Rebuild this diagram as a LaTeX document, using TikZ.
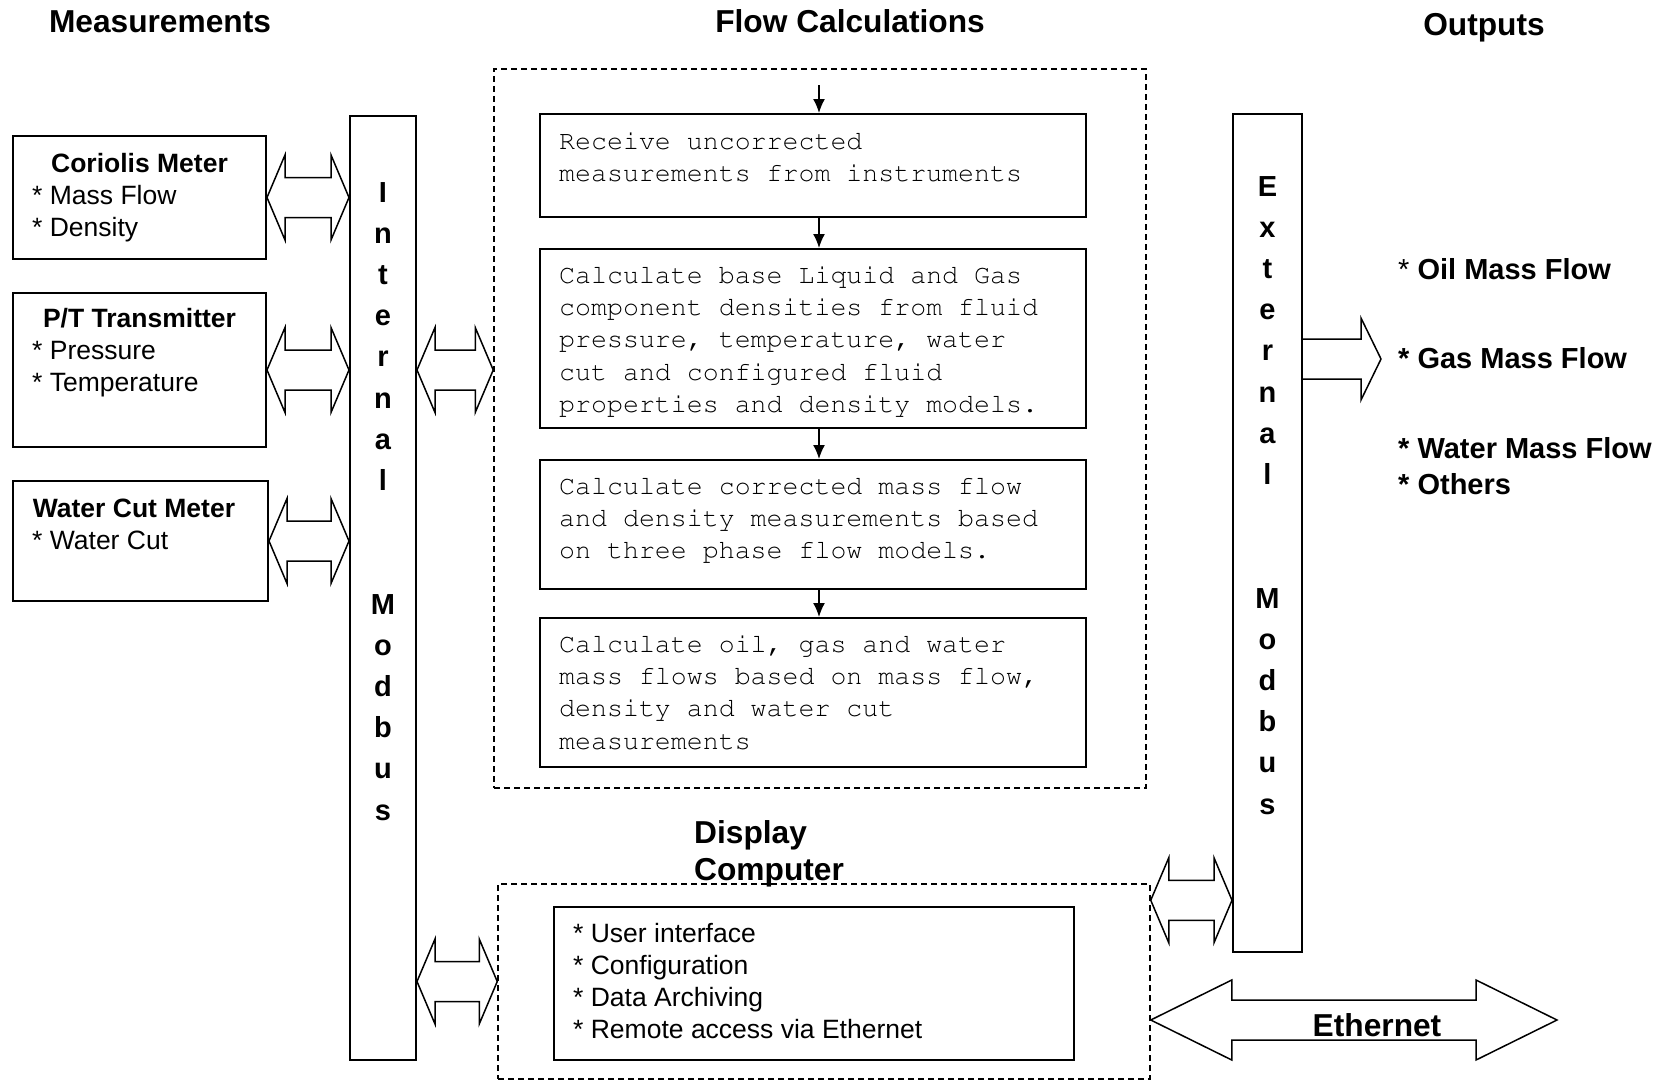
\documentclass[tikz,border=0pt]{standalone}
\usepackage[T1]{fontenc}
\usepackage{fontspec}
\setmainfont{Liberation Sans}
\setmonofont{Liberation Mono}
\usetikzlibrary{calc,arrows.meta}

\newcommand{\ttlfont}{\fontsize{31.7}{37}\selectfont\bfseries}
\newcommand{\txtfont}{\fontsize{26.5}{32}\selectfont}
\newcommand{\codefont}{\fontencoding{T1}\fontfamily{pcr}\fontseries{m}\fontsize{26.6}{32.3}\selectfont}
\newcommand{\barfont}{\fontsize{29}{41.2}\selectfont\bfseries}
\newcommand{\outfont}{\fontsize{29}{36}\selectfont}

% double block arrow: start, end, head length, head half width
\newcommand{\dblarrow}[4]{%
  \draw[blockarrow] let \p1=(#1), \p2=(#2) in
    (\x1,\y1) -- (\x1+#3pt,\y1+#4pt) -- (\x1+#3pt,\y1+20pt) -- (\x2-#3pt,\y1+20pt)
    -- (\x2-#3pt,\y1+#4pt) -- (\x2,\y1) -- (\x2-#3pt,\y1-#4pt) -- (\x2-#3pt,\y1-20pt)
    -- (\x1+#3pt,\y1-20pt) -- (\x1+#3pt,\y1-#4pt) -- cycle;}
% single block arrow out of a bar
\newcommand{\sglarrow}[4]{%
  \draw[blockarrow] let \p1=(#1), \p2=(#2) in
    (\x1,\y1+20pt) -- (\x2-#3pt,\y1+20pt) -- (\x2-#3pt,\y1+#4pt) -- (\x2,\y1)
    -- (\x2-#3pt,\y1-#4pt) -- (\x2-#3pt,\y1-20pt) -- (\x1,\y1-20pt);}

\begin{document}
\begin{tikzpicture}[x=1pt,y=-1pt,
    solidbox/.style={draw,line width=2pt,inner sep=0pt},
    groupbox/.style={draw,line width=1.5pt,dash pattern=on 6pt off 4pt,inner sep=0pt},
    blockarrow/.style={line width=1.5pt,fill=white,line join=miter},
    flowarrow/.style={line width=1.5pt,-{Latex[length=14pt,width=12pt]}}]
    \useasboundingbox (0,0) rectangle (1670,1081);

    % Titles
    \node[font=\ttlfont,anchor=base] (tmeas) at (160,33) {Measurements};
    \node[font=\ttlfont,anchor=base] (tflow) at (850,33) {Flow Calculations};
    \node[font=\ttlfont,anchor=base] (tout) at (1484,36) {Outputs};

    % Measurement boxes
    \node[solidbox,minimum width=253pt,minimum height=123pt] (cor) at (139.5,197.5) {};
    \node[font=\txtfont\bfseries,anchor=base] (corT) at (139.5,172) {Coriolis Meter};
    \node[font=\txtfont,align=left,anchor=north west,inner sep=0pt] (corL) at (32,181.6) {\strut* Mass Flow\\* Density};

    \node[solidbox,minimum width=253pt,minimum height=154pt] (pt) at (139.5,370) {};
    \node[font=\txtfont\bfseries,anchor=base] (ptT) at (139.5,327) {P/T Transmitter};
    \node[font=\txtfont,align=left,anchor=north west,inner sep=0pt] (ptL) at (32,336.6) {\strut* Pressure\\* Temperature};

    \node[solidbox,minimum width=255pt,minimum height=120pt] (wc) at (140.5,541) {};
    \node[font=\txtfont\bfseries,anchor=base] (wcT) at (134,517) {Water Cut Meter};
    \node[font=\txtfont,align=left,anchor=north west,inner sep=0pt] (wcL) at (32,526.6) {\strut* Water Cut};

    % Internal Modbus bar
    \node[solidbox,minimum width=66pt,minimum height=944pt] (imb) at (383,588) {};
    \foreach \ch [count=\i from 0] in {I,n,t,e,r,n,a,l}
      \node[font=\barfont,anchor=base] (imbA-\i) at (383,{202+41.2*\i}) {\ch};
    \foreach \ch [count=\i from 10] in {M,o,d,b,u,s}
      \node[font=\barfont,anchor=base] (imbB-\i) at (383,{202+41.2*\i}) {\ch};

    % Flow calculations
    \node[groupbox,minimum width=652pt,minimum height=719pt] (flow) at (820,428.5) {};
    \node[solidbox,minimum width=546pt,minimum height=103pt] (rcv) at (813,165.5) {};
    \node[solidbox,minimum width=546pt,minimum height=179pt] (base) at (813,338.5) {};
    \node[solidbox,minimum width=546pt,minimum height=129pt] (corr) at (813,524.5) {};
    \node[solidbox,minimum width=546pt,minimum height=149pt] (mflow) at (813,692.5) {};

    \node[font=\codefont,align=left,anchor=north west,inner sep=0pt] (rcvT) at (559,126.4)
      {\strut Receive uncorrected\\measurements from instruments};
    \node[font=\codefont,align=left,anchor=north west,inner sep=0pt] (baseT) at (559,260.4)
      {\strut Calculate base Liquid and Gas\\component densities from fluid\\pressure, temperature, water\\cut and configured fluid\\properties and density models.};
    \node[font=\codefont,align=left,anchor=north west,inner sep=0pt] (corrT) at (559,471.4)
      {\strut Calculate corrected mass flow\\and density measurements based\\on three phase flow models.};
    \node[font=\codefont,align=left,anchor=north west,inner sep=0pt] (mflowT) at (559,629.4)
      {\strut Calculate oil, gas and water\\mass flows based on mass flow,\\density and water cut\\measurements};

    \coordinate (fin) at (819,85);
    \draw[flowarrow] (fin) -- (fin |- rcv.north);
    \draw[flowarrow] (fin |- rcv.south) -- (fin |- base.north);
    \draw[flowarrow] (fin |- base.south) -- (fin |- corr.north);
    \draw[flowarrow] (fin |- corr.south) -- (fin |- mflow.north);

    % Display computer
    \node[font=\ttlfont,align=left,anchor=north west,inner sep=0pt] (dispT) at (694,817)
      {\strut Display\\Computer};
    \node[groupbox,minimum width=652pt,minimum height=195pt] (disp) at (824,981.5) {};
    \node[solidbox,minimum width=520pt,minimum height=153pt] (dinner) at (814,983.5) {};
    \node[font=\txtfont,align=left,anchor=north west,inner sep=0pt] (dinT) at (573,919.6)
      {\strut* User interface\\* Configuration\\* Data Archiving\\* Remote access via Ethernet};

    % External Modbus bar
    \node[solidbox,minimum width=69pt,minimum height=838pt] (ext) at (1267.5,533) {};
    \foreach \ch [count=\i from 0] in {E,x,t,e,r,n,a,l}
      \node[font=\barfont,anchor=base] (extA-\i) at (1267.5,{196+41.2*\i}) {\ch};
    \foreach \ch [count=\i from 10] in {M,o,d,b,u,s}
      \node[font=\barfont,anchor=base] (extB-\i) at (1267.5,{196+41.2*\i}) {\ch};

    % Outputs
    \node[font=\outfont,anchor=base west,inner sep=0pt] (oil) at (1398,279) {* \bfseries Oil Mass Flow};
    \node[font=\outfont\bfseries,anchor=base west,inner sep=0pt] (gas) at (1398,368) {* Gas Mass Flow};
    \node[font=\outfont\bfseries,anchor=base west,inner sep=0pt] (water) at (1398,458) {* Water Mass Flow};
    \node[font=\outfont\bfseries,anchor=base west,inner sep=0pt] (other) at (1398,494) {* Others};

    % Block arrows
    \dblarrow{cor.east}{imb.west}{18}{42.5}
    \dblarrow{pt.east}{imb.west}{18}{42.5}
    \dblarrow{wc.east}{imb.west}{18}{42.5}
    \dblarrow{imb.east |- pt.east}{flow.west}{18}{42.5}
    \dblarrow{imb.east |- disp.west}{disp.west}{18}{42.5}
    \dblarrow{[yshift=-17pt]disp.north east}{ext.west}{18}{42.5}
    \coordinate (outtip) at (1381,359);
    \sglarrow{ext.east |- outtip}{outtip}{20}{41}

    % Ethernet
    \coordinate (ethr) at (1557,1020);
    \dblarrow{[yshift=-38.5pt]disp.east}{ethr}{81}{40}
    \node[font=\ttlfont,anchor=base] (eth) at (1377,1036) {Ethernet};
\end{tikzpicture}
\end{document}
